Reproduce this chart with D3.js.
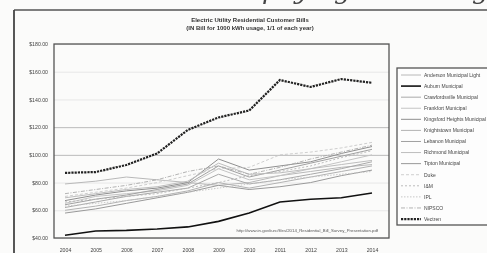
<!DOCTYPE html>
<html lang="en">
<head>
<meta charset="utf-8">
<title>Electric Utility Residential Customer Bills</title>
<script src="https://cdn.jsdelivr.net/npm/d3@7"></script>
<style>
  body { margin: 0; background: #fbfbfa; }
  svg { display: block; filter: blur(0.35px); font-family: "Liberation Sans", Arial, sans-serif; }
</style>
</head>
<body>
<script>
// chart size
var w = 487;
var h = 253;

var years = ["2004","2005","2006","2007","2008","2009","2010","2011","2012","2013","2014"];
var yTicks = [40, 60, 80, 100, 120, 140, 160, 180];

var names = [
  "Anderson Municipal Light",
  "Auburn Municipal",
  "Crawfordsville Municipal",
  "Frankfort Municipal",
  "Kingsford Heights Municipal",
  "Knightstown Municipal",
  "Lebanon Municipal",
  "Richmond Municipal",
  "Tipton Municipal",
  "Duke",
  "I&M",
  "IPL",
  "NIPSCO",
  "Vectren"
];

// bill values, $ per 1000 kWh
var anderson   = [79, 81, 84, 82, 80, 78, 80, 85, 88, 91, 93];
var auburn     = [42, 45, 45.5, 46.5, 48, 52, 58, 66, 68, 69, 72.5];
var crawford   = [62, 66, 70, 73, 76, 86, 79, 82, 86, 90, 95];
var frankfort  = [65, 70, 72, 74, 78, 90, 82, 85, 90, 95, 100];
var kingsford  = [67, 71, 74, 76, 80, 97, 89, 92, 95, 101, 106];
var knights    = [60, 63, 67, 70, 74, 80, 76, 80, 84, 88, 92];
var lebanon    = [64, 68, 71, 75, 79, 92, 84, 89, 94, 99, 104];
var richmond   = [69, 72, 75, 77, 81, 94, 86, 87, 90, 93, 96];
var tipton     = [58, 61, 65, 69, 73, 78, 75, 77, 80, 85, 89];
var duke       = [70, 73, 76, 80, 85, 90, 91, 100, 102, 105, 109];
var im         = [66, 68, 70, 72, 76, 80, 85, 88, 92, 98, 103];
var ipl        = [63, 65, 67, 70, 73, 76, 79, 82, 84, 86, 88];
var nipsco     = [72, 75, 78, 82, 88, 92, 86, 91, 97, 102, 107];
var vectren    = [87, 87.6, 92.7, 101, 118, 127, 132, 154, 149, 154.7, 152];

var series = [anderson, auburn, crawford, frankfort, kingsford, knights, lebanon,
              richmond, tipton, duke, im, ipl, nipsco, vectren];

var colors = ["#b8b8b8","#111","#a9a9a9","#c4c4c4","#8f8f8f","#b2b2b2","#a0a0a0",
              "#bdbdbd","#999","#c8c8c8","#b5b5b5","#c2c2c2","#aaa","#222"];
var widths = [1, 1.6, 1, 1, 1, 1, 1, 1, 1, 0.9, 0.9, 0.9, 0.9, 2.2];
var dashes = [null, null, null, null, null, null, null, null, null,
              "3,2", "2,2", "1.5,1.5", "4,1.5,1,1.5", "2.2,1"];

var svg = d3.select("body").append("svg")
  .attr("width", w)
  .attr("height", h);

// big text from the page above, only the bottoms show
svg.append("text")
  .attr("x", 262).attr("y", -1)
  .attr("font-family", "DejaVu Serif, serif")
  .attr("font-style", "italic")
  .attr("font-size", 26)
  .attr("fill", "#444")
  .text("paying");
svg.append("text")
  .attr("x", 472).attr("y", -1)
  .attr("font-family", "DejaVu Serif, serif")
  .attr("font-style", "italic")
  .attr("font-size", 26)
  .attr("fill", "#444")
  .text("g");

// page frame
svg.append("line").attr("x1", 14).attr("x2", w).attr("y1", 10).attr("y2", 10)
  .attr("stroke", "#555").attr("stroke-width", 1.3);
svg.append("line").attr("x1", 14).attr("x2", 14).attr("y1", 10).attr("y2", h)
  .attr("stroke", "#444").attr("stroke-width", 1.8);

// title
svg.append("text").attr("x", 250).attr("y", 22)
  .attr("text-anchor", "middle").attr("font-size", 6).attr("font-weight", "bold")
  .attr("fill", "#333")
  .text("Electric Utility Residential Customer Bills");
svg.append("text").attr("x", 250).attr("y", 30)
  .attr("text-anchor", "middle").attr("font-size", 6).attr("font-weight", "bold")
  .attr("fill", "#333")
  .text("(IN Bill for 1000 kWh usage, 1/1 of each year)");

// plot box
var pLeft = 54, pRight = 389, pTop = 44, pBottom = 238;

var x = d3.scalePoint()
  .domain(years)
  .range([65, 372]);

var y = d3.scaleLinear()
  .domain([40, 180])
  .range([pBottom, pTop]);

// gridlines + y labels
var yAxis = svg.append("g")
  .attr("transform", "translate(" + pLeft + ",0)")
  .call(d3.axisLeft(y).tickValues(yTicks).tickSize(-(pRight - pLeft)).tickPadding(6)
    .tickFormat(function(d){ return "$" + d3.format(".2f")(d); }));
yAxis.select(".domain").remove();
yAxis.selectAll(".tick line").attr("stroke", function(d){
  return (d == 100 || d == 120) ? "#aaa" : "#e2e2e2";
}).attr("stroke-width", 0.8);
yAxis.selectAll("text").attr("font-size", 5.2).attr("fill", "#444")
  .attr("font-family", "Liberation Sans, Arial, sans-serif");

// x labels
var xAxis = svg.append("g")
  .attr("transform", "translate(0," + (pBottom + 7) + ")")
  .call(d3.axisBottom(x).tickSize(0));
xAxis.select(".domain").remove();
xAxis.selectAll("text").attr("font-size", 5.2).attr("fill", "#444")
  .attr("font-family", "Liberation Sans, Arial, sans-serif");

// lines
var line = d3.line()
  .x(function(d, i){ return x(years[i]); })
  .y(function(d){ return y(d); });

svg.selectAll("path.series")
  .data(series)
  .enter()
  .append("path")
  .attr("class", "series")
  .attr("d", line)
  .attr("fill", "none")
  .attr("stroke", function(d, i){ return colors[i]; })
  .attr("stroke-width", function(d, i){ return widths[i]; })
  .attr("stroke-dasharray", function(d, i){ return dashes[i]; });

// plot border
svg.append("rect")
  .attr("x", pLeft).attr("y", pTop)
  .attr("width", pRight - pLeft).attr("height", pBottom - pTop)
  .attr("fill", "none").attr("stroke", "#555").attr("stroke-width", 1.3);

// source note
svg.append("text").attr("x", 378).attr("y", 232)
  .attr("text-anchor", "end").attr("font-size", 4.3).attr("fill", "#555")
  .text("http://www.in.gov/iurc/files/2014_Residential_Bill_Survey_Presentation.pdf");

// legend
var lx = 397, ly = 68;
svg.append("rect")
  .attr("x", lx).attr("y", ly)
  .attr("width", 100).attr("height", 157)
  .attr("fill", "#fdfdfd").attr("stroke", "#555").attr("stroke-width", 1.3);

var leg = svg.selectAll("g.leg")
  .data(names)
  .enter()
  .append("g")
  .attr("class", "leg")
  .attr("transform", function(d, i){ return "translate(" + (lx + 4) + "," + (75 + i * 11.08) + ")"; });

leg.append("line")
  .attr("x1", 0).attr("x2", 20).attr("y1", 0).attr("y2", 0)
  .attr("stroke", function(d, i){ return colors[i]; })
  .attr("stroke-width", function(d, i){ return widths[i]; })
  .attr("stroke-dasharray", function(d, i){ return dashes[i]; });

leg.append("text")
  .attr("x", 23).attr("y", 1.8)
  .attr("font-size", 5).attr("fill", "#444")
  .text(function(d){ return d; });
</script>
</body>
</html>
